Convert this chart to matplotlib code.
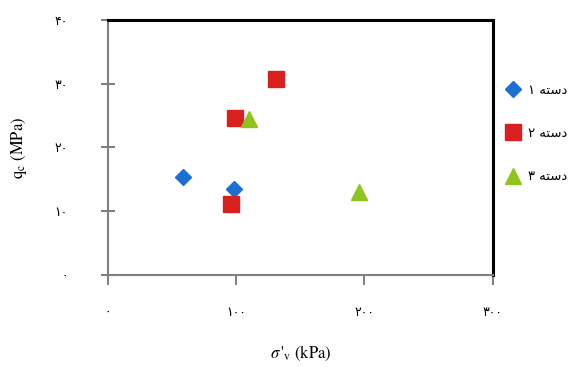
import matplotlib.pyplot as plt

plt.rcParams['mathtext.fontset'] = 'stix'

# measured points: effective vertical stress (kPa) vs cone resistance (MPa)
g1_x = [58.6, 98.0]
g1_y = [15.4, 13.5]
g2_x = [130.7, 98.8, 95.7]
g2_y = [30.8, 24.6, 11.1]
g3_x = [109.7, 195.8]
g3_y = [24.4, 13.0]

# legend labels (Arabic presentation forms so the glyphs join without a shaper)
word = '\uFEEA\uFE98\uFEB3\uFEA9'
labels = ['\u06F1 ' + word, '\u06F2 ' + word, '\u06F3 ' + word]

xticks = [0, 100, 200, 300]
yticks = [0, 10, 20, 30, 40]


def fa(n):
    return str(n).translate(str.maketrans('0123456789', '۰۱۲۳۴۵۶۷۸۹'))


fig = plt.figure(figsize=(5.77, 3.67), dpi=100)
ax = fig.add_axes([0.187, 0.2507, 0.667, 0.6948])

ax.plot(g1_x, g1_y, 'D', color='#1c6fd3', ms=8, ls='none', label=labels[0])
ax.plot(g2_x, g2_y, 's', color='#d8201f', ms=12, ls='none', label=labels[1])
ax.plot(g3_x, g3_y, '^', color='#8fc41e', ms=11.5, ls='none', label=labels[2])

ax.set_xlim(0, 300)
ax.set_ylim(0, 40)
ax.set_xticks(xticks)
ax.set_yticks(yticks)
ax.set_xticklabels([fa(t) for t in xticks], fontsize=9, family='DejaVu Sans')
ax.set_yticklabels([fa(t) for t in yticks], fontsize=9, family='DejaVu Sans')
ax.tick_params(axis='x', direction='out', length=7, width=1.5, color='#808080', pad=15)
ax.tick_params(axis='y', direction='inout', length=10, width=1.5, color='#808080', pad=24)

for s in ['left', 'bottom']:
    ax.spines[s].set_color('#808080')
    ax.spines[s].set_linewidth(1.5)
for s in ['top', 'right']:
    ax.spines[s].set_color('black')
    ax.spines[s].set_linewidth(2.2)

ax.set_xlabel(r"$\sigma\,'_{\mathrm{v}}\ \mathrm{(kPa)}$", fontsize=12)
ax.set_ylabel(r"$\mathrm{q_c\ (MPa)}$", fontsize=12)
ax.xaxis.set_label_coords(0.5, -0.27)
ax.yaxis.set_label_coords(-0.205, 0.5)

ax.legend(loc='center left', bbox_to_anchor=(1.0, 0.555), frameon=False,
          labelspacing=2.3, handletextpad=0.6, handlelength=1.2,
          prop={'family': 'DejaVu Sans', 'size': 9.5})

fig.savefig('out.png', dpi=100)
